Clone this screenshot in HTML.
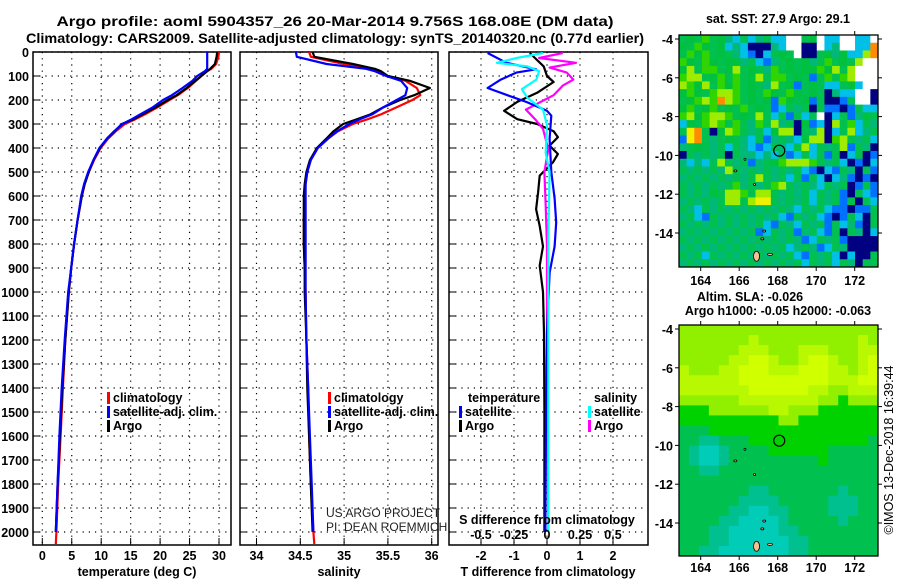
<!DOCTYPE html>
<html><head><meta charset="utf-8"><style>
html,body{margin:0;padding:0;background:#fff;}
svg{display:block;font-family:"Liberation Sans",sans-serif;}
.t{font-weight:bold;font-size:12.5px;fill:#000;}
</style></head><body>
<svg id="fig" width="900" height="580" viewBox="0 0 900 580" xmlns="http://www.w3.org/2000/svg">
<defs>
<clipPath id="c1"><rect x="33" y="52" width="198" height="493"/></clipPath>
<clipPath id="c2"><rect x="240" y="52" width="198" height="493"/></clipPath>
<clipPath id="c3"><rect x="449" y="52" width="199" height="493"/></clipPath>
</defs>
<text x="335" y="26" text-anchor="middle" class="t" style="font-size:14px" textLength="557" lengthAdjust="spacingAndGlyphs">Argo profile: aoml 5904357_26 20-Mar-2014 9.756S 168.08E (DM data)</text>
<text x="335" y="43" text-anchor="middle" class="t" style="font-size:14px" textLength="618" lengthAdjust="spacingAndGlyphs">Climatology: CARS2009. Satellite-adjusted climatology: synTS_20140320.nc (0.77d earlier)</text>
<g id="g1"></g>
<g id="g2"></g>
<g id="g3"></g>
<g id="m1"></g>
<g id="m2"></g>
<text x="778" y="23" text-anchor="middle" class="t">sat. SST: 27.9 Argo: 29.1</text>
<text x="750" y="301" text-anchor="middle" class="t">Altim. SLA: -0.026</text>
<text x="778" y="315" text-anchor="middle" class="t">Argo h1000: -0.05 h2000: -0.063</text>
<text transform="translate(893,450) rotate(-90)" text-anchor="middle" style="font-size:12.5px">©IMOS 13-Dec-2018 16:39:44</text>
<text x="326" y="517" style="font-size:12px;font-weight:300" fill="#222">US ARGO PROJECT</text>
<text x="326" y="531" style="font-size:12px;font-weight:300" fill="#222">PI: DEAN ROEMMICH</text>
</svg>
<script>
const depth=[0,20,50,70,80,100,120,150,180,200,230,260,280,300,330,360,400,450,500,550,600,700,800,900,1000,1200,1400,1600,1800,2000,2050];
const argoT=[29.7,29.6,29.3,28.5,28,27,26,24.5,22.8,21.3,19.3,17,15.5,13.5,12.3,11,9.8,8.7,7.9,7.2,6.7,6.0,5.4,4.9,4.5,3.9,3.4,3.0,2.6,2.3,2.3];
const climT=[30,29.9,29.5,28.7,28,27,26.1,24.7,23,21.6,19.6,17.4,15.8,14,12.5,11.2,9.9,8.8,7.9,7.2,6.7,6.0,5.4,4.9,4.5,3.9,3.5,3.1,2.7,2.4,2.3];
const satT=[28,28,28,28,27.6,26.3,25.5,23.8,22,20.5,18.8,16.6,15.2,13.6,12.2,11.0,9.7,8.7,7.8,7.1,6.6,6.0,5.4,4.9,4.4,3.8,3.3,2.9,2.6,2.3,2.3];
const argoS=[34.64,34.66,35.1,35.35,35.42,35.5,35.75,35.98,35.8,35.64,35.45,35.3,35.15,34.99,34.88,34.8,34.69,34.61,34.57,34.55,34.54,34.54,34.54,34.55,34.55,34.57,34.58,34.6,34.62,34.64,34.65];
const climS=[34.6,34.62,35.0,35.3,35.4,35.5,35.7,35.83,35.87,35.78,35.6,35.42,35.27,35.1,34.93,34.82,34.7,34.62,34.58,34.56,34.55,34.54,34.54,34.55,34.56,34.57,34.59,34.6,34.62,34.65,34.66];
const satS=[34.45,34.46,34.8,35.25,35.35,35.48,35.65,35.72,35.7,35.6,35.45,35.32,35.18,35.06,34.92,34.82,34.7,34.62,34.58,34.56,34.56,34.56,34.56,34.56,34.56,34.57,34.59,34.61,34.63,34.65,34.66];
const argoTdDepth=[4,60,100,125,170,208,245,280,300,330,355,390,425,460,515,585,655,725,810,890,1000,1170,1500,2000];
const argoTd=[-0.52,-0.1,0,0.2,-0.3,-0.9,-1.3,-0.9,-0.3,0.2,0.33,0.08,0.33,0.18,-0.22,-0.27,-0.33,-0.22,-0.12,-0.22,-0.12,-0.09,-0.08,-0.08];
const satTdDepth=[4,45,72,86,115,150,180,208,245,265,360,500,610,710,810,920,1170,1500,2000];
const satTd=[-1.8,-1.23,-0.33,-0.93,-1.4,-1.8,-1.2,-0.63,0,0.13,0.08,0.13,0.23,0.28,0.23,0.08,0,-0.03,-0.05];
const satSdDepth=[4,25,45,60,80,115,155,190,240,305,420,500,780,1170,2000];
const satSd=[-0.03,-0.23,-0.38,-0.15,-0.06,-0.08,-0.19,-0.15,-0.03,0,-0.01,0.02,0.01,0.01,0.01];
const argoSdDepth=[4,25,45,65,86,115,140,180,240,280,320,405,500,640,810,1170,2000];
const argoSd=[0.12,-0.06,0.22,0.02,0.15,0.2,0.12,0.05,-0.16,-0.09,-0.03,0.01,-0.02,-0.01,0,0,0.01];
const depthTicks=[0,100,200,300,400,500,600,700,800,900,1000,1100,1200,1300,1400,1500,1600,1700,1800,1900,2000];
const tTicks=[0,5,10,15,20,25,30];
const sTicks=[34,34.5,35,35.5,36];
const sTickLabels=["34","34.5","35","35.5","36"];
const tdTicks=[-2,-1,0,1,2];
const sdTicks=[-0.5,-0.25,0,0.25,0.5];
const sdTickLabels=["-0.5","-0.25","0","0.25","0.5"];
const lonTicks=[164,166,168,170,172];
const latTicks=[-4,-6,-8,-10,-12,-14];
const sstRows=[
"gGgLgGTCgCTgCCWWgGWCCWWCCW","GgLGgGCTCNNNTCWWNNWCTWWCCO","gLGLgGgTCBNCgGgWNNgGTGCCYO","LGgLGgGGTgCBTgGgGTgLgGgYWW",
"GYgLLgGYgGgTLgGgGGLGYgYWWW","LYYgGLgLgGYgLLgGgBgLgLYWWW","YLGYgLGLgGgTYgGBgGgCCgGCWW","GLGgLYYLgGgLGgLGgGgNTCCWWN",
"gGLYLOYLgGgGBLGgGBgNNBgWWN","GLgGLgGgLgGgBCgTgNgBBNBgCC","LYGLYYLgGgYgCgBgCgWNCgBTGg","CGgLYLgLgTLgYTgNGBCNYgLCgT",
"gyOgNGYLgTgCGYYNgTYNCgYCTg","ByOgTgGgTCgBTgTCGYYNLYgTgC","TgGgTgCgTCBCgTCgYCgTgYBgTN","NgTgTgNgTTCTCgBCgCgBgNCgNB",
"TCTCgYgTgBTgGLYYYLgTgCNBNC","gTgTgTYgTgTgTgTgCBNCBgTNgB","TgTgTgTgTgYgTgCgBgCNCTBNBN","gTgTgTgLTgTgLYgTgTCgTgNBgB",
"gTgTGgYYLgYYgTgTgCgTgBNgCB","TgTgTgYYgYyygTgTgCgTgBgNgC","gTCgTgTgTgTgTgTCgTgCBBNBBg","TgCBgTgTgTgTgCBgTgCBNBgCNg",
"gTgTgTgTgTgCBgTCgTgBgCTBNg","TgTgTgTgTgBCgTgBTgCBgNgTNC","gTgTgTgTgTgTgTgTBCgTgBNNNN","TgTgTgTgTgTgTgCTgTBCgTNNNN",
"gTgCgTgTgTgTgTgCBgTgCNCNNg","TgTgTgTgTgTgTgTgCgTgCgTNgg"];
const slaRows=[
"LLLLLLLLLLLLLLLLLLLL","LLLLLLLyLLLLLLLLLLyL","LLLLLLyyyLLLyyyLLLyy","LLLLLyyYYyLLyYYyLLyY",
"yLLLyyYYYyyyYYYyyLyY","yyyyyyYYYYYYYYYyyyYY","yyyyyyyYYYYYYyyLLyyy","LLLLLLyyyyyyyyLLGLLL",
"GGGLLLLLLyyLLLGGGGGG","GGGGGGGGGGLLGGGGGGGG","gggGGGGGGGGGGGGGGGGG","ggTTgggGGGGGGGGGGGGg",
"gTCCTggggGGGGGGggggg","gTCCTgggggggggGggggg","ggTTgggggggggggggggg","gggggggggggggggggggg",
"gggggggTTgggggggTggg","ggggggTTTTgggggTTTgg","gggggTTCCTTggggTTTgg","ggggTTCCCCTgggggTggg",
"gggTTCCCCCTTgggggggg","gggTTCCCCCCTTggggggg","ggTTCCCCCCCTTggggggg"];
const sstColors={G:"#00c040",g:"#00c050",L:"#30d400",Y:"#a0ec00",y:"#f0f000",O:"#ff8c00",C:"#00c0e8",B:"#0070ff",N:"#000080",W:"#ffffff",T:"#00b878"};
const slaColors={L:"#90f000",y:"#b8f800",Y:"#d0ff00",G:"#00d200",g:"#00c050",T:"#00c090",C:"#00ccb8"};

const NS="http://www.w3.org/2000/svg";
function mk(tag,parent,attrs){const e=document.createElementNS(NS,tag);for(const k in attrs)e.setAttribute(k,attrs[k]);parent.appendChild(e);return e;}
const yD=d=>52+d*0.24;
const xT=t=>42.3+t*5.89;
const xS=s=>256.5+(s-34)*87.6;
const xTd=v=>547+v*33;
const xSd=v=>547+v*132;

function panel(g,x0,x1,xTicks,xScale,labels){
  const bg=mk('rect',g,{x:x0,y:52,width:x1-x0,height:493,fill:'#fff'});
  
  
  depthTicks.forEach(d=>{
    const l=mk('line',g,{x1:x0,x2:x1,y1:yD(d),y2:yD(d),stroke:'#000','stroke-width':1.2,'stroke-dasharray':'1.2 5'});
    
    
    const tk=mk('line',g,{x1:x0,x2:x0+7,y1:yD(d),y2:yD(d),stroke:'#000','stroke-width':1});
    
    
  });
  xTicks.forEach((v,i)=>{
    const x=xScale(v);
    const l=mk('line',g,{x1:x,x2:x,y1:52,y2:545,stroke:'#000','stroke-width':1.2,'stroke-dasharray':'1.2 5'});
    
    
    const tk=mk('line',g,{x1:x,x2:x,y1:538,y2:545,stroke:'#000','stroke-width':1});
    
    
    const t=mk('text',g,{x:x,y:560,'text-anchor':'middle','class':'t'});
    t.textContent=labels[i];
    
    
  });
  const fr=mk('rect',g,{x:x0,y:52,width:x1-x0,height:493,fill:'none',stroke:'#000','stroke-width':1.5});
  
  
}
function line(g,ds,vs,xs,color,clip,name,w){
  const pts=ds.map((d,i)=>xs(vs[i]).toFixed(1)+','+yD(d).toFixed(1)).join(' ');
  const p=mk('polyline',g,{points:pts,fill:'none',stroke:color,'stroke-width':w||2.2,'clip-path':'url(#'+clip+')','stroke-linejoin':'round'});
  
  
}
function legend(g,x,y,color,label){
  const r=mk('rect',g,{x:x,y:y-10,width:3,height:12,fill:color});
  
  
  const t=mk('text',g,{x:x+6,y:y,'class':'t'});
  t.textContent=label;
  
  
}
function txt(g,x,y,s,anchor,name){
  const t=mk('text',g,{x:x,y:y,'text-anchor':anchor,'class':'t'});
  t.textContent=s;
  
  
}
const g1=document.getElementById('g1'),g2=document.getElementById('g2'),g3=document.getElementById('g3');
panel(g1,33,231,tTicks,xT,tTicks.map(String));
panel(g2,240,438,sTicks,xS,sTickLabels);
panel(g3,449,648,tdTicks,xTd,tdTicks.map(String));
depthTicks.forEach(d=>txt(g1,29,yD(d)+5,String(d),'end','y-tick-label'));
line(g1,depth,climT,xT,'#ff0000','c1','climatology-temperature-line');
line(g1,depth.slice(0,30),argoT.slice(0,30),xT,'#000','c1','argo-temperature-line');
line(g1,depth.slice(0,30),satT.slice(0,30),xT,'#0000ff','c1','satellite-temperature-line');
line(g2,depth,climS,xS,'#ff0000','c2','climatology-salinity-line');
line(g2,depth.slice(0,30),argoS.slice(0,30),xS,'#000','c2','argo-salinity-line');
line(g2,depth.slice(0,30),satS.slice(0,30),xS,'#0000ff','c2','satellite-salinity-line');
line(g3,argoTdDepth,argoTd,xTd,'#000','c3','argo-temperature-difference-line');
line(g3,argoSdDepth,argoSd,xSd,'#ff00ff','c3','argo-salinity-difference-line');
line(g3,satTdDepth,satTd,xTd,'#0000ff','c3','satellite-temperature-difference-line');
line(g3,satSdDepth,satSd,xSd,'#00ffff','c3','satellite-salinity-difference-line');
legend(g1,107,402,'#ff0000','climatology');
legend(g1,107,416,'#0000ff','satellite-adj. clim.');
legend(g1,107,430,'#000','Argo');
legend(g2,328,402,'#ff0000','climatology');
legend(g2,328,416,'#0000ff','satellite-adj. clim.');
legend(g2,328,430,'#000','Argo');
txt(g3,468,402,'temperature','start','legend-title-temperature');
txt(g3,594,402,'salinity','start','legend-title-salinity');
legend(g3,459,416,'#0000ff','satellite');
legend(g3,459,430,'#000','Argo');
legend(g3,588,416,'#00ffff','satellite');
legend(g3,588,430,'#ff00ff','Argo');
txt(g3,547,524,'S difference from climatology','middle','s-axis-title');
sdTicks.forEach((v,i)=>txt(g3,xSd(v),539,sdTickLabels[i],'middle','s-tick-label'));
txt(g1,137,576,'temperature (deg C)','middle','x-axis-title-temperature');
txt(g2,339,576,'salinity','middle','x-axis-title-salinity');
txt(g3,548,576,'T difference from climatology','middle','x-axis-title-t-difference');

function map(g,top,bottom,rows,colors,labelY,name){
  const x0=679,x1=878;
  const lonX=l=>700.7+(l-164)*19.25;
  const latY=l=>top.y0+(-4-l)*19.4;
  const nr=rows.length,nc=rows[0].length;
  const cw=(x1-x0)/nc,ch=(bottom-top.top)/nr;
  rows.forEach((row,r)=>{for(let c=0;c<nc;c++){
    const cell=mk('rect',g,{x:(x0+c*cw).toFixed(2),y:(top.top+r*ch).toFixed(2),width:(cw+0.4).toFixed(2),height:(ch+0.4).toFixed(2),fill:colors[row[c]]});
    
    
  }});
  const isl=[[166.9,-15.2,6,10],[167.6,-15.1,5,2],[167.2,-14.3,3,2],[167.3,-13.9,3,2],[166.8,-11.5,2,2],[165.8,-10.8,3,2],[166.3,-10.2,2,2]];
  isl.forEach(s=>{
    const e=mk('ellipse',g,{cx:lonX(s[0]),cy:latY(s[1]),rx:s[2]/2,ry:s[3]/2,fill:'#f8c090',stroke:'#000','stroke-width':0.8});
    
    
  });
  const circ=mk('circle',g,{cx:lonX(168.08),cy:latY(-9.756),r:5.5,fill:'none',stroke:'#000','stroke-width':1.2});
  
  
  const fr=mk('rect',g,{x:x0,y:top.top,width:x1-x0,height:bottom-top.top,fill:'none',stroke:'#000','stroke-width':1.3});
  
  
  lonTicks.forEach(l=>{
    const x=lonX(l);
    const a=mk('line',g,{x1:x,x2:x,y1:top.top-4,y2:top.top,stroke:'#000'});
    
    
    const b=mk('line',g,{x1:x,x2:x,y1:bottom,y2:bottom+4,stroke:'#000'});
    
    
    txt(g,x,labelY,String(l),'middle','longitude-label');
  });
  latTicks.forEach(l=>{
    const y=latY(l);
    const a=mk('line',g,{x1:x0-4,x2:x0,y1:y,y2:y,stroke:'#000'});
    
    
    const b=mk('line',g,{x1:x1,x2:x1+4,y1:y,y2:y,stroke:'#000'});
    
    
    txt(g,673,y+5,String(l),'end','latitude-label');
  });
}
map(document.getElementById('m1'),{top:35,y0:39},267,sstRows,sstColors,285,'sst');
map(document.getElementById('m2'),{top:325,y0:329},556,slaRows,slaColors,572,'sla');
</script>
</body></html>
